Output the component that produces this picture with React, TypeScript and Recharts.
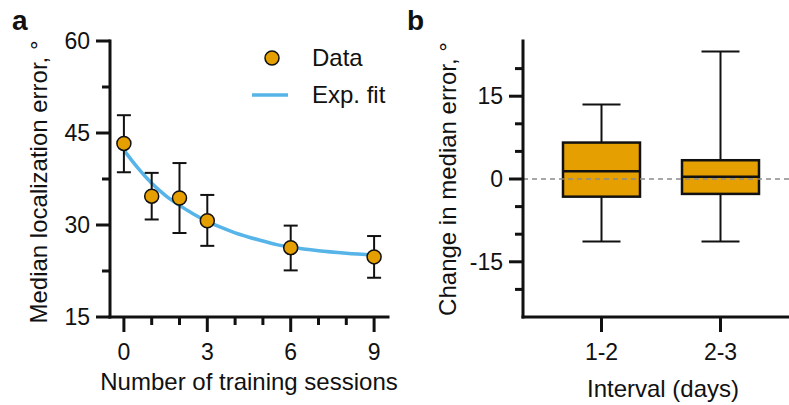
import React from 'react';
import {
  ComposedChart,
  Scatter,
  Line,
  Bar,
  XAxis,
  YAxis,
  ErrorBar,
  ReferenceLine,
  Legend,
  Label
} from 'recharts';

// panel a: median error per training session
const sessions = [0, 1, 2, 3, 6, 9];
const medianError = [43.3, 34.7, 34.4, 30.7, 26.3, 24.8];
const errorHigh = [47.9, 38.5, 40.1, 34.9, 29.9, 28.2];
const errorLow = [38.6, 30.9, 28.7, 26.6, 22.6, 21.4];

// exp. fit
const fitSessions = [0, 0.5, 1, 1.5, 2, 2.5, 3, 3.5, 4, 4.5, 5, 5.5, 6, 7, 8, 9];
const fitError = [42.2, 39.3, 36.8, 34.8, 33.2, 31.8, 30.6, 29.6, 28.7, 28.0, 27.4, 26.8, 26.4, 25.8, 25.4, 25.1];

// panel b: box plot of change in median error
const intervals = ['1-2', '2-3'];
const whiskerLow = [-11.3, -11.3];
const q1 = [-3.2, -2.7];
const medians = [1.4, 0.4];
const q3 = [6.6, 3.4];
const whiskerHigh = [13.5, 23.1];

const yTicksA = [15, 22.5, 30, 37.5, 45, 52.5, 60];
const yLabelsA = [15, 30, 45, 60];
const xTicksA = [0, 1, 2, 3, 4, 5, 6, 7, 8, 9];
const xLabelsA = [0, 3, 6, 9];
const yTicksB = [-20, -15, -10, -5, 0, 5, 10, 15, 20];
const yLabelsB = [-15, 0, 15];

const INK = '#111';
const ORANGE = '#E69F00';
const BLUE = '#56B4E9';
const FONT = '"Liberation Sans", Arial, Helvetica, sans-serif';

const pointsA = sessions.map((x, i) => ({
  x,
  y: medianError[i],
  err: [medianError[i] - errorLow[i], errorHigh[i] - medianError[i]]
}));
const fitA = fitSessions.map((x, i) => ({ x, y: fitError[i] }));
const boxData = intervals.map((name, i) => ({
  name,
  low: whiskerLow[i],
  q1: q1[i],
  med: medians[i],
  q3: q3[i],
  high: whiskerHigh[i]
}));

const makeYTick = (labels: number[]) => (props: any) => {
  const { x, y, payload } = props;
  const major = labels.includes(payload.value);
  return (
    <g>
      <line x1={x - (major ? 14 : 8)} x2={x} y1={y} y2={y} stroke={INK} strokeWidth={3} />
      {major && (
        <text x={x - 20} y={y + 8} textAnchor="end" fontSize={23} fontFamily={FONT} fill={INK}>
          {payload.value}
        </text>
      )}
    </g>
  );
};

const makeXTick = (labels: any[] | null) => (props: any) => {
  const { x, y, payload } = props;
  const major = labels === null || labels.includes(payload.value);
  return (
    <g>
      <line x1={x} x2={x} y1={y} y2={y + (major ? 15 : 8)} stroke={INK} strokeWidth={3} />
      {major && (
        <text x={x} y={y + 43} textAnchor="middle" fontSize={23} fontFamily={FONT} fill={INK}>
          {payload.value}
        </text>
      )}
    </g>
  );
};

const Dot = (props: any) => (
  <circle cx={props.cx} cy={props.cy} r={7} fill={ORANGE} stroke={INK} strokeWidth={1.5} />
);

const BoxShape = (props: any) => {
  const { x, y, width, height, payload } = props;
  const top = Math.min(y, y + height);
  const h = Math.abs(height);
  const py = (v: number) => top + ((payload.high - v) / (payload.high - payload.low)) * h;
  const cx = x + width / 2;
  const cap = 19;
  return (
    <g>
      <line x1={cx} x2={cx} y1={py(payload.high)} y2={py(payload.q3)} stroke={INK} strokeWidth={2} />
      <line x1={cx} x2={cx} y1={py(payload.q1)} y2={py(payload.low)} stroke={INK} strokeWidth={2} />
      <line x1={cx - cap} x2={cx + cap} y1={py(payload.high)} y2={py(payload.high)} stroke={INK} strokeWidth={2} />
      <line x1={cx - cap} x2={cx + cap} y1={py(payload.low)} y2={py(payload.low)} stroke={INK} strokeWidth={2} />
      <rect x={x} y={py(payload.q3)} width={width} height={py(payload.q1) - py(payload.q3)} fill={ORANGE} stroke={INK} strokeWidth={2.5} />
      <line x1={x} x2={x + width} y1={py(payload.med)} y2={py(payload.med)} stroke={INK} strokeWidth={2.5} />
    </g>
  );
};

const LegendA = () => (
  <svg width={160} height={80} style={{ overflow: 'visible' }}>
    <circle cx={32} cy={18} r={7} fill={ORANGE} stroke={INK} strokeWidth={1.5} />
    <text x={72} y={26} fontSize={24} fontFamily={FONT} fill={INK}>Data</text>
    <line x1={12} x2={48} y1={55} y2={55} stroke={BLUE} strokeWidth={3.5} />
    <text x={72} y={63} fontSize={24} fontFamily={FONT} fill={INK}>Exp. fit</text>
  </svg>
);

const axisLine = { stroke: INK, strokeWidth: 3, strokeLinecap: 'square' as const };

export default function App() {
  return (
    <div style={{ position: 'absolute', left: 0, top: 0, width: 789, height: 405, background: '#fff' }}>
      <div style={{ position: 'absolute', left: 0, top: 0 }}>
        <ComposedChart width={400} height={405} margin={{ top: 41, right: 12, bottom: 28, left: 0 }}>
          <XAxis
            type="number"
            dataKey="x"
            domain={[-0.5, 9.5]}
            ticks={xTicksA}
            interval={0}
            height={60}
            tickSize={0}
            tickMargin={0}
            axisLine={axisLine}
            tickLine={false}
            tick={makeXTick(xLabelsA)}
          >
            <Label
              content={(p: any) => (
                <text x={p.viewBox.x + p.viewBox.width / 2} y={p.viewBox.y + 73} textAnchor="middle" fontSize={24} fontFamily={FONT} fill={INK}>
                  Number of training sessions
                </text>
              )}
            />
          </XAxis>
          <YAxis
            type="number"
            domain={[15, 60]}
            ticks={yTicksA}
            interval={0}
            width={110}
            tickSize={0}
            tickMargin={0}
            axisLine={axisLine}
            tickLine={false}
            tick={makeYTick(yLabelsA)}
          >
            <Label
              content={(p: any) => {
                const cx = p.viewBox.x + 38;
                const cy = p.viewBox.y + p.viewBox.height / 2 + 3;
                return (
                  <text x={cx} y={cy} transform={`rotate(-90, ${cx}, ${cy})`} textAnchor="middle" dominantBaseline="central" fontSize={24} fontFamily={FONT} fill={INK}>
                    Median localization error, °
                  </text>
                );
              }}
            />
          </YAxis>
          <Line data={fitA} dataKey="y" type="monotone" stroke={BLUE} strokeWidth={3.5} dot={false} activeDot={false} isAnimationActive={false} />
          <Scatter data={pointsA} dataKey="y" shape={Dot} isAnimationActive={false}>
            <ErrorBar dataKey="err" direction="y" width={7} stroke={INK} strokeWidth={2} />
          </Scatter>
          <Legend
            layout="horizontal"
            verticalAlign="middle"
            align="center"
            content={() => <LegendA />}
            wrapperStyle={{ position: 'absolute', left: 240, top: 40, width: 160 }}
          />
        </ComposedChart>
      </div>
      <div style={{ position: 'absolute', left: 400, top: 0 }}>
        <ComposedChart width={389} height={405} data={boxData} margin={{ top: 41, right: 0, bottom: 28, left: 0 }}>
          <XAxis
            dataKey="name"
            type="category"
            padding={{ left: 19, right: 9 }}
            height={60}
            tickSize={0}
            tickMargin={0}
            axisLine={axisLine}
            tickLine={false}
            tick={makeXTick(null)}
          >
            <Label
              content={(p: any) => (
                <text x={p.viewBox.x + 140} y={p.viewBox.y + 80} textAnchor="middle" fontSize={24} fontFamily={FONT} fill={INK}>
                  Interval (days)
                </text>
              )}
            />
          </XAxis>
          <YAxis
            type="number"
            domain={[-25, 25]}
            ticks={yTicksB}
            interval={0}
            width={123}
            tickSize={0}
            tickMargin={0}
            axisLine={axisLine}
            tickLine={false}
            tick={makeYTick(yLabelsB)}
          >
            <Label
              content={(p: any) => {
                const cx = p.viewBox.x + 47;
                const cy = p.viewBox.y + p.viewBox.height / 2;
                return (
                  <text x={cx} y={cy} transform={`rotate(-90, ${cx}, ${cy})`} textAnchor="middle" dominantBaseline="central" fontSize={24} fontFamily={FONT} fill={INK}>
                    Change in median error, °
                  </text>
                );
              }}
            />
          </YAxis>
          <ReferenceLine y={0} stroke="#8a8a8a" strokeDasharray="5 4" strokeWidth={1.5} />
          <Bar dataKey={(d: any) => [d.low, d.high]} barSize={77} shape={BoxShape} isAnimationActive={false} />
        </ComposedChart>
      </div>
      <svg width={789} height={405} style={{ position: 'absolute', left: 0, top: 0, pointerEvents: 'none' }}>
        <text x={12} y={30} fontSize={28} fontWeight="bold" fontFamily={FONT} fill={INK}>a</text>
        <text x={407} y={30} fontSize={28} fontWeight="bold" fontFamily={FONT} fill={INK}>b</text>
      </svg>
    </div>
  );
}
